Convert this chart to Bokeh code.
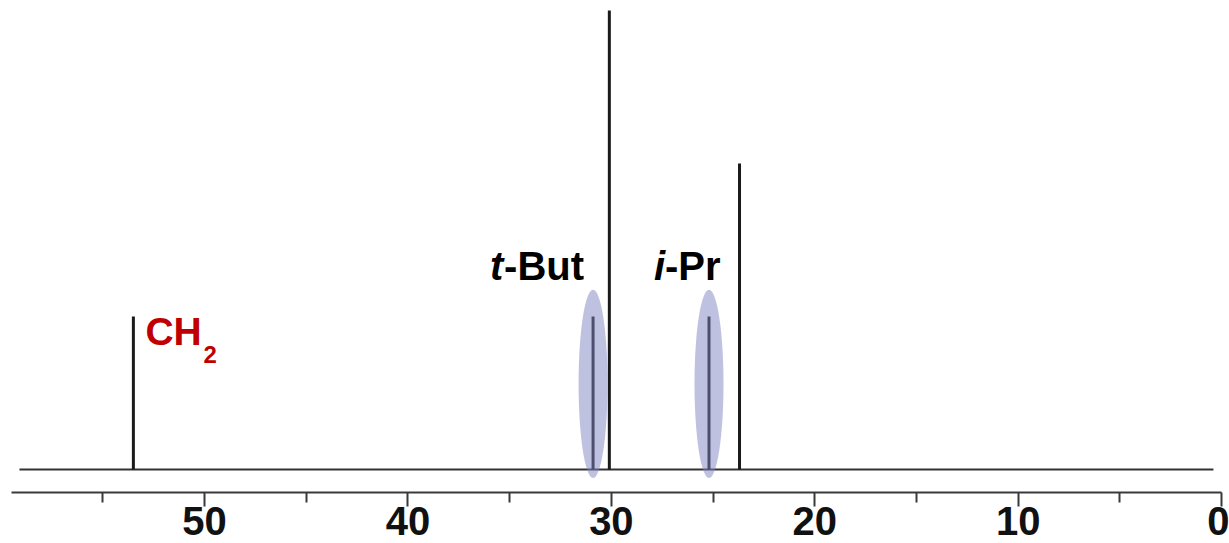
from bokeh.plotting import figure
from bokeh.models import Range1d, FixedTicker
from bokeh.core.properties import value
from bokeh.embed import file_html
from bokeh.resources import INLINE

# ---- data ----
peak_ppm = [53.5, 30.9, 30.1, 25.2, 23.7]
peak_intensity = [1, 1, 3, 1, 2]
baseline_ppm = [59.1, 0.4]
major_ticks = [0, 10, 20, 30, 40, 50]
highlight_ppm = [30.9, 25.2]
highlight_intensity = [1, 1]
label_main = ["-But", "-Pr"]
label_italic = ["t", "i"]
ch2_ppm = [53.5]
ch2_intensity = [1]

p = figure(width=1229, height=543, output_backend="svg", toolbar_location=None,
           x_range=Range1d(59.64, -0.39), y_range=Range1d(-0.150, 3.013),
           min_border_left=8, min_border_right=0, min_border_top=8, min_border_bottom=51)
p.outline_line_color = None
p.background_fill_color = "white"
p.border_fill_color = "white"
p.xgrid.visible = False
p.ygrid.visible = False
p.yaxis.visible = False

ax = p.xaxis[0]
ax.ticker = FixedTicker(ticks=major_ticks, minor_ticks=[5, 15, 25, 35, 45, 55])
ax.bounds = (0, 59.5)
ax.axis_line_color = "#3a3a3a"
ax.axis_line_width = 2
ax.major_tick_line_color = "#3a3a3a"
ax.major_tick_line_width = 2
ax.major_tick_out = 14
ax.major_tick_in = 0
ax.minor_tick_line_color = "#3a3a3a"
ax.minor_tick_line_width = 2
ax.minor_tick_out = 10
ax.minor_tick_in = 0
ax.major_label_text_font = "Liberation Sans"
ax.major_label_text_font_style = "bold"
ax.major_label_text_font_size = "40px"
ax.major_label_text_color = "#111111"
ax.major_label_standoff = 0

# baseline
p.line(x=baseline_ppm, y=[0, 0], line_color="#333333", line_width=2)
# peaks
p.segment(x0=peak_ppm, y0=[0] * len(peak_ppm), x1=peak_ppm, y1=peak_intensity,
          line_color="#1a1a1a", line_width=3)

# highlight ellipses
p.ellipse(x=highlight_ppm, y=[0.5 * h + 0.06 for h in highlight_intensity],
          width=29, height=[1.23 * h * 153 for h in highlight_intensity],
          width_units="screen", height_units="screen",
          fill_color="#8083C1", fill_alpha=0.5, line_color=None)

# labels t-But, i-Pr
font = value("Liberation Sans")
yo = -51
p.text(x=highlight_ppm[0:1], y=highlight_intensity[0:1], text=label_italic[0:1],
       x_offset=-103, y_offset=yo, text_font=font, text_font_style="bold italic",
       text_font_size="40px", text_color="black", text_baseline="alphabetic", text_align="left")
p.text(x=highlight_ppm[0:1], y=highlight_intensity[0:1], text=label_main[0:1],
       x_offset=-89, y_offset=yo, text_font=font, text_font_style="bold",
       text_font_size="40px", text_color="black", text_baseline="alphabetic", text_align="left")
p.text(x=highlight_ppm[1:2], y=highlight_intensity[1:2], text=label_italic[1:2],
       x_offset=-55, y_offset=yo, text_font=font, text_font_style="bold italic",
       text_font_size="40px", text_color="black", text_baseline="alphabetic", text_align="left")
p.text(x=highlight_ppm[1:2], y=highlight_intensity[1:2], text=label_main[1:2],
       x_offset=-44, y_offset=yo, text_font=font, text_font_style="bold",
       text_font_size="40px", text_color="black", text_baseline="alphabetic", text_align="left")

# CH2 label
p.text(x=ch2_ppm, y=ch2_intensity, text=["CH"], x_offset=12, y_offset=15,
       text_font=font, text_font_style="bold", text_font_size="39px",
       text_color="#C00000", text_baseline="alphabetic", text_align="left")
p.text(x=ch2_ppm, y=ch2_intensity, text=["2"], x_offset=70, y_offset=38,
       text_font=font, text_font_style="bold", text_font_size="24px",
       text_color="#C00000", text_baseline="alphabetic", text_align="left")

open("out.html", "w").write(file_html(p, INLINE))
